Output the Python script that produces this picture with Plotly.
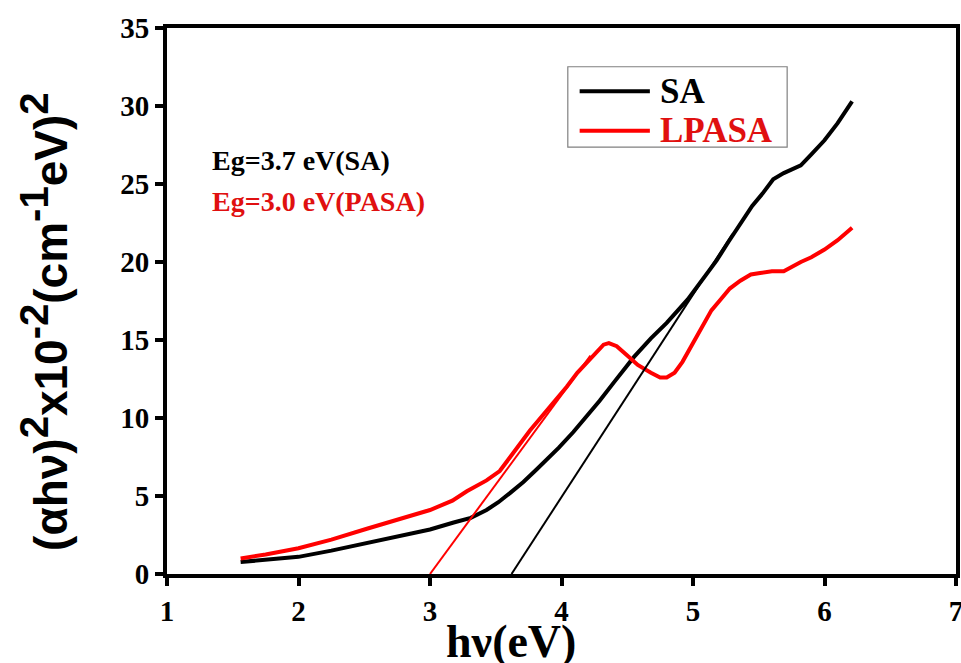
import plotly.graph_objects as go

# ---- data ----
sa_x = [1.56, 1.75, 2.0, 2.25, 2.52, 2.77, 3.0, 3.18, 3.31, 3.43, 3.52, 3.61, 3.71, 3.81, 3.9,
        3.98, 4.09, 4.19, 4.29, 4.4, 4.55, 4.68, 4.8, 4.96, 5.07, 5.18, 5.27, 5.36, 5.45, 5.53,
        5.61, 5.69, 5.74, 5.78, 5.82, 5.9, 6.0, 6.1, 6.21]
sa_y = [0.77, 0.9, 1.1, 1.5, 2.0, 2.4, 2.85, 3.3, 3.6, 4.1, 4.6, 5.2, 5.9, 6.7, 7.4,
        8.1, 9.1, 10.1, 11.1, 12.3, 13.9, 15.1, 16.1, 17.6, 18.9, 20.1, 21.3, 22.5, 23.6, 24.4,
        25.3, 25.7, 25.9, 26.0, 26.2, 26.9, 27.8, 28.9, 30.3]

lp_x = [1.56, 1.75, 2.0, 2.25, 2.52, 2.77, 3.0, 3.17, 3.28, 3.43, 3.53, 3.61, 3.76, 3.88, 3.94,
        4.04, 4.12, 4.2, 4.27, 4.32, 4.36, 4.42, 4.5, 4.58, 4.68, 4.75, 4.8, 4.86, 4.92, 5.0,
        5.06, 5.14, 5.21, 5.28, 5.36, 5.44, 5.51, 5.6, 5.69, 5.75, 5.82, 5.9, 6.0, 6.1, 6.21]
lp_y = [1.0, 1.25, 1.65, 2.2, 2.9, 3.5, 4.1, 4.7, 5.3, 6.0, 6.6, 7.5, 9.2, 10.4, 11.0,
        12.0, 12.9, 13.6, 14.3, 14.7, 14.8, 14.6, 14.0, 13.4, 12.9, 12.6, 12.6, 12.9, 13.6, 14.8,
        15.6, 16.9, 17.6, 18.3, 18.8, 19.2, 19.3, 19.4, 19.4, 19.7, 20.0, 20.3, 20.8, 21.4, 22.2]

# linear fits (Tauc extrapolation lines)
sa_fit_x = [3.62, 5.3]
sa_fit_y = [0.0, 21.8]
lp_fit_x = [3.0, 4.22]
lp_fit_y = [0.0, 14.0]

series_names = ["SA", "LPASA"]
x_ticks = [1, 2, 3, 4, 5, 6, 7]
y_ticks = [0, 5, 10, 15, 20, 25, 30, 35]

BLACK = "#000000"
RED = "#ff0000"
TXTRED = "#e01010"
SERIF = "Liberation Serif, Times New Roman, serif"
SANS = "Liberation Sans, Arial, sans-serif"

fig = go.Figure()
fig.add_trace(go.Scatter(x=sa_x, y=sa_y, mode="lines", name=series_names[0], showlegend=False,
                         line=dict(color=BLACK, width=4)))
fig.add_trace(go.Scatter(x=lp_x, y=lp_y, mode="lines", name=series_names[1], showlegend=False,
                         line=dict(color=RED, width=4)))
fig.add_trace(go.Scatter(x=sa_fit_x, y=sa_fit_y, mode="lines", showlegend=False,
                         line=dict(color=BLACK, width=2)))
fig.add_trace(go.Scatter(x=lp_fit_x, y=lp_fit_y, mode="lines", showlegend=False,
                         line=dict(color=RED, width=2)))

# band-gap notes
fig.add_annotation(x=0.055, y=0.757, xref="paper", yref="paper", xanchor="left", yanchor="middle",
                   text="<b>Eg=3.7 eV(SA)</b>", showarrow=False,
                   font=dict(family=SERIF, size=28, color=BLACK))
fig.add_annotation(x=0.055, y=0.683, xref="paper", yref="paper", xanchor="left", yanchor="middle",
                   text="<b>Eg=3.0 eV(PASA)</b>", showarrow=False,
                   font=dict(family=SERIF, size=28, color=TXTRED))

# legend box (drawn to match the reference's long sample lines)
fig.add_shape(type="rect", xref="paper", yref="paper", x0=0.508, x1=0.786, y0=0.782, y1=0.929,
              line=dict(color="#808080", width=1.2), fillcolor="white", layer="below")
for name, col, tcol, yy in [(series_names[0], BLACK, BLACK, 0.884),
                            (series_names[1], RED, TXTRED, 0.812)]:
    fig.add_shape(type="line", xref="paper", yref="paper", x0=0.523, x1=0.612, y0=yy, y1=yy,
                  line=dict(color=col, width=4))
    fig.add_annotation(x=0.622, y=yy, xref="paper", yref="paper", xanchor="left", yanchor="middle",
                       text=f"<b>{name}</b>", showarrow=False,
                       font=dict(family=SERIF, size=35, color=tcol))

# axis titles (placed as in the reference, which are off-centre)
ytitle = ("<b>(αhν)<sup><span style='font-size:40px'>2</span></sup>x10"
          "<sup><span style='font-size:40px'>-2</span></sup>(cm"
          "<sup><span style='font-size:40px'>-1</span></sup>eV)"
          "<sup><span style='font-size:40px'>2</span></sup></b>")
fig.add_annotation(x=-0.156, y=0.4615, xref="paper", yref="paper", xanchor="center", yanchor="middle",
                   text=ytitle, textangle=-90, showarrow=False,
                   font=dict(family=SANS, size=46, color=BLACK))
fig.add_annotation(x=0.436, y=-0.124, xref="paper", yref="paper", xanchor="center", yanchor="middle",
                   text="<b>hν(eV)</b>", showarrow=False,
                   font=dict(family=SERIF, size=46, color=BLACK))

fig.update_layout(
    width=961, height=663,
    margin=dict(l=167, r=5, t=28, b=89),
    plot_bgcolor="white", paper_bgcolor="white",
    showlegend=False,
    xaxis=dict(range=[1, 7], tickvals=x_ticks, ticktext=[f"<b>{v}</b>" for v in x_ticks],
               showgrid=False, zeroline=False, automargin=False, ticklabeloverflow="allow",
               showline=True, linecolor=BLACK, linewidth=4, mirror=True,
               ticks="outside", ticklen=8, tickwidth=4, tickcolor=BLACK,
               tickfont=dict(family=SERIF, size=29, color=BLACK)),
    yaxis=dict(range=[0, 35], tickvals=y_ticks, ticktext=[f"<b>{v}</b>" for v in y_ticks],
               showgrid=False, zeroline=False, automargin=False, ticklabeloverflow="allow",
               showline=True, linecolor=BLACK, linewidth=4, mirror=True,
               ticks="outside", ticklen=8, tickwidth=4, tickcolor=BLACK,
               tickfont=dict(family=SERIF, size=29, color=BLACK)),
)

fig.write_html("out.html", config={"displayModeBar": False},
               post_script="document.body.style.margin='0';document.body.style.overflow='hidden';")
